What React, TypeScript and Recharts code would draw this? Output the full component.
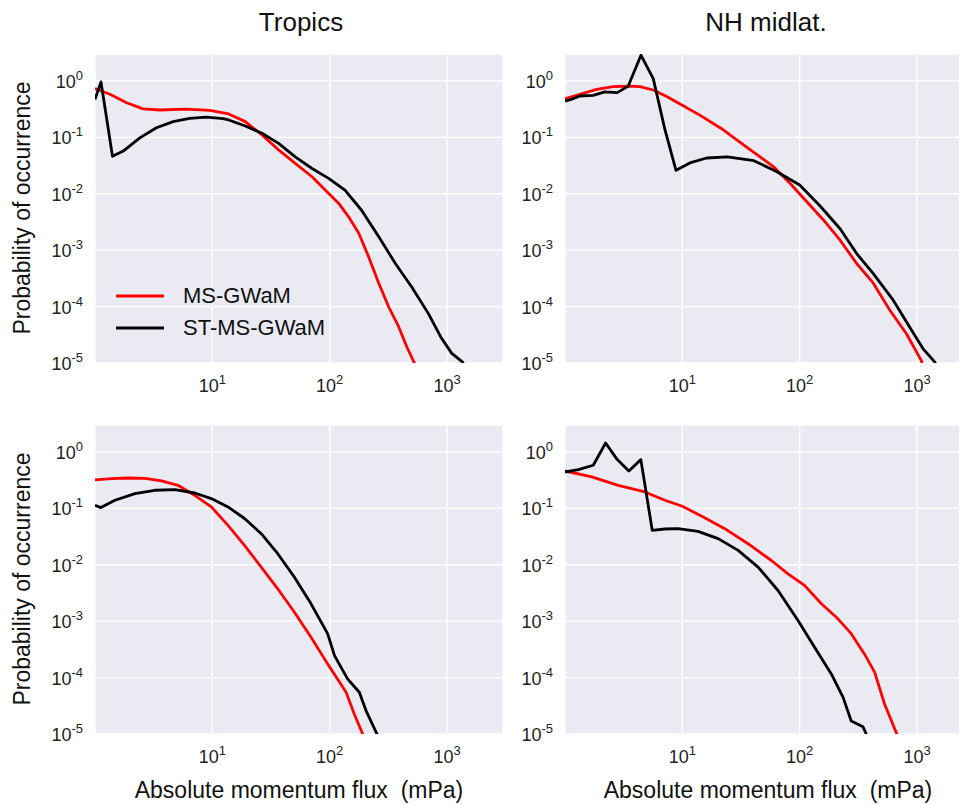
import { LineChart, Line, CartesianGrid, XAxis, YAxis } from 'recharts';

// [flux (mPa), probability] pairs
const tropicsTopMS = [
    [1, 0.73], [1.34, 0.58], [1.86, 0.41], [2.57, 0.32], [3.57, 0.305], [6, 0.315], [9.5, 0.3],
    [13.8, 0.26], [19.1, 0.19], [26.5, 0.11], [36.7, 0.06], [50.9, 0.0345], [70.7, 0.02], [98, 0.0101],
    [119, 0.0068], [145, 0.0039], [177, 0.002], [215, 7.6e-4], [262, 2.6e-4], [318, 9.9e-5],
    [387, 4.4e-5], [456, 1.9e-5], [530, 9.8e-6], [600, 5e-6],
];
const tropicsTopST = [
    [1, 0.47], [1.125, 0.96], [1.41, 0.046], [1.74, 0.057], [2.41, 0.098], [3.34, 0.148], [4.63, 0.19],
    [6.4, 0.217], [8.9, 0.228], [12.3, 0.215], [13.8, 0.203], [19.1, 0.159], [26.5, 0.118], [36.7, 0.078],
    [50.9, 0.045], [70.7, 0.028], [98, 0.0187], [135, 0.0116], [187, 0.0051], [262, 0.00173],
    [363, 5.8e-4], [502, 2.2e-4], [694, 7.5e-5], [884, 2.9e-5], [1098, 1.48e-5], [1351, 1.05e-5], [1500, 7e-6],
];
const midlatTopMS = [
    [1, 0.485], [1.34, 0.58], [1.86, 0.71], [2.58, 0.79], [3.57, 0.81], [4.35, 0.79], [5.65, 0.69],
    [7.35, 0.53], [10, 0.37], [14.2, 0.245], [21.3, 0.145], [35.8, 0.066], [60, 0.03], [83, 0.0152],
    [115, 0.0072], [160, 0.0034], [221, 0.0015], [306, 5.8e-4], [424, 2.6e-4], [587, 8.6e-5],
    [812, 3.3e-5], [1089, 1.1e-5], [1150, 7e-6],
];
const midlatTopST = [
    [1, 0.44], [1.13, 0.47], [1.34, 0.54], [1.74, 0.556], [2.19, 0.64], [2.79, 0.62], [3.46, 0.81],
    [4.44, 2.86], [5.65, 1.1], [7.1, 0.138], [8.83, 0.026], [11.6, 0.0352], [16.1, 0.043], [24.2, 0.045],
    [40.7, 0.0385], [64, 0.0246], [100, 0.0143], [150, 0.006], [221, 0.0024], [306, 8.7e-4],
    [424, 3.85e-4], [627, 1.3e-4], [867, 4.3e-5], [1123, 1.8e-5], [1413, 1.05e-5], [1550, 7e-6],
];
const tropicsBotMS = [
    [1, 0.32], [1.39, 0.336], [1.92, 0.345], [2.66, 0.34], [3.69, 0.306], [5.1, 0.256], [7.08, 0.17],
    [9.8, 0.106], [13.6, 0.05], [18.8, 0.022], [26.1, 0.0091], [36.1, 0.00375], [50.1, 0.00144],
    [69.4, 5.2e-4], [96, 1.75e-4], [138, 5.5e-5], [162, 2.26e-5], [191, 1e-5], [205, 7e-6],
];
const tropicsBotST = [
    [1, 0.113], [1.12, 0.103], [1.48, 0.139], [2.19, 0.182], [3.23, 0.209], [4.79, 0.214], [7.08, 0.187],
    [9.8, 0.149], [13.6, 0.106], [18.8, 0.066], [26.1, 0.0355], [36.1, 0.0157], [50.1, 0.006],
    [69.4, 0.00203], [96, 6e-4], [110, 2.45e-4], [142, 9.5e-5], [179, 5.5e-5], [204, 2.6e-5],
    [253, 1e-5], [270, 7e-6],
];
const midlatBotMS = [
    [1, 0.46], [1.69, 0.36], [2.84, 0.256], [4.8, 0.195], [7.1, 0.139], [10, 0.109], [15.5, 0.068],
    [23, 0.0436], [36.3, 0.0236], [57.4, 0.0119], [79.5, 0.0069], [110, 0.0043], [153, 0.00203],
    [212, 0.0011], [275, 6e-4], [357, 2.6e-4], [435, 1.25e-4], [529, 3.4e-5], [673, 1e-5], [720, 6e-6],
];
const midlatBotST = [
    [1, 0.44], [1.3, 0.486], [1.74, 0.58], [2.22, 1.44], [2.75, 0.76], [3.5, 0.46], [4.43, 0.73],
    [5.54, 0.0407], [7.1, 0.043], [9.2, 0.0436], [13.6, 0.039], [20.2, 0.029], [29.9, 0.018],
    [44.2, 0.0091], [65.4, 0.0035], [96.8, 0.00103], [134, 3.45e-4], [186, 1.16e-4], [234, 4.5e-5],
    [275, 1.7e-5], [346, 1.35e-5], [369, 1e-5], [380, 7e-6],
];

const xTicks = [10, 100, 1000];
const yTicks = [1e-5, 1e-4, 1e-3, 1e-2, 1e-1, 1];
const titles = ['Tropics', 'NH midlat.'];
const seriesNames = ['MS-GWaM', 'ST-MS-GWaM'];
const colors = ['#ff0000', '#000000'];

const FONT = '"Liberation Sans", Arial, sans-serif';
const toPts = (arr: number[][]) => arr.map(([x, y]) => ({ x, y }));

const Pow = ({ v }: { v: number }) => (
    <>
        <tspan fontSize={18}>10</tspan>
        <tspan fontSize={13} dy={-8}>{Math.round(Math.log10(v))}</tspan>
    </>
);

const XTick = (props: any) => (
    <text x={props.x} y={props.y + 21} textAnchor="middle" fill="#222" fontFamily={FONT}>
        <Pow v={props.payload.value} />
    </text>
);

const YTick = (props: any) => (
    <text x={props.x} y={props.y + 7} textAnchor="end" fill="#222" fontFamily={FONT}>
        <Pow v={props.payload.value} />
    </text>
);

const Panel = ({ ms, st, left, top }: { ms: number[][]; st: number[][]; left: number; top: number }) => (
    <div style={{ position: 'absolute', left, top }}>
        <LineChart width={495} height={363} margin={{ top: 14, right: 0, left: 0, bottom: 0 }}>
            <CartesianGrid fill="#EAEAF2" fillOpacity={1} stroke="#ffffff" strokeWidth={1.3} />
            <XAxis type="number" dataKey="x" scale="log" domain={[1, 3000]} ticks={xTicks} interval={0}
                allowDataOverflow axisLine={false} tickLine={false} height={40} tick={<XTick />} />
            <YAxis type="number" scale="log" domain={[1e-5, 3]} ticks={yTicks} interval={0}
                allowDataOverflow axisLine={false} tickLine={false} width={87} tickMargin={6} tick={<YTick />} />
            <Line data={toPts(ms)} dataKey="y" stroke={colors[0]} strokeWidth={2.8} dot={false}
                strokeLinejoin="round" isAnimationActive={false} />
            <Line data={toPts(st)} dataKey="y" stroke={colors[1]} strokeWidth={2.8} dot={false}
                strokeLinejoin="round" isAnimationActive={false} />
        </LineChart>
    </div>
);

const centered = (x: number, y: number, size: number, rotate = false): React.CSSProperties => ({
    position: 'absolute', left: x - 200, top: y - 20, width: 400, height: 40, lineHeight: '40px',
    textAlign: 'center', fontSize: size, fontFamily: FONT, color: '#111', whiteSpace: 'nowrap',
    transform: rotate ? 'rotate(-90deg)' : undefined,
});

const App = () => (
    <div style={{ position: 'relative', width: 959, height: 797, overflow: 'hidden', background: '#fff' }}>
        <Panel ms={tropicsTopMS} st={tropicsTopST} left={0} top={32} />
        <Panel ms={midlatTopMS} st={midlatTopST} left={470} top={32} />
        <Panel ms={tropicsBotMS} st={tropicsBotST} left={0} top={403} />
        <Panel ms={midlatBotMS} st={midlatBotST} left={470} top={403} />

        <div style={centered(293, 14, 26)}>{titles[0]}</div>
        <div style={centered(758, 14, 26)}>{titles[1]}</div>
        <div style={centered(14, 200, 23, true)}>Probability of occurrence</div>
        <div style={centered(14, 571, 23, true)}>Probability of occurrence</div>
        <div style={centered(291, 782, 23)}>Absolute momentum flux&nbsp;&nbsp;(mPa)</div>
        <div style={centered(760, 782, 23)}>Absolute momentum flux&nbsp;&nbsp;(mPa)</div>

        <div style={{ position: 'absolute', left: 108, top: 272, fontFamily: FONT, fontSize: 22, color: '#111' }}>
            {seriesNames.map((n, i) => (
                <div key={n} style={{ display: 'flex', alignItems: 'center', height: 32 }}>
                    <svg width={48} height={4} style={{ marginRight: 19 }}>
                        <line x1={0} y1={2} x2={48} y2={2} stroke={colors[i]} strokeWidth={2.8} />
                    </svg>
                    <span>{n}</span>
                </div>
            ))}
        </div>
    </div>
);

export default App;
